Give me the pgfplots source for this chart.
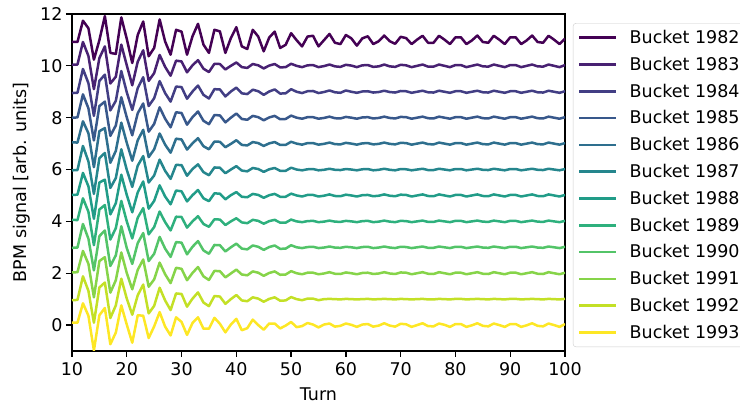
\documentclass[border=0pt]{standalone}
\usepackage{fontspec}
\setmainfont{DejaVu Sans}
\usepackage{pgfplots}
\usepackage{pgfplotstable}
\pgfplotsset{compat=1.18}

% viridis, 12 samples
\definecolor{v0}{RGB}{68,1,84}
\definecolor{v1}{RGB}{72,33,114}
\definecolor{v2}{RGB}{66,62,132}
\definecolor{v3}{RGB}{56,88,139}
\definecolor{v4}{RGB}{46,111,142}
\definecolor{v5}{RGB}{37,134,141}
\definecolor{v6}{RGB}{33,156,136}
\definecolor{v7}{RGB}{46,176,125}
\definecolor{v8}{RGB}{83,196,104}
\definecolor{v9}{RGB}{134,212,73}
\definecolor{v10}{RGB}{195,224,38}
\definecolor{v11}{RGB}{253,231,37}

% deviation of each bucket from its offset (a = 1982 ... l = 1993)
\pgfplotstableread{
t a b c d e f g h i j k l
10 -0.08 0.04 -0.05 0.00 0.05 -0.03 0.02 0.06 -0.02 0.03 -0.04 0.09
11 -0.08 0.05 -0.04 0.01 0.04 -0.02 0.03 0.05 -0.01 0.04 -0.03 0.09
12 0.74 0.92 0.88 0.90 0.86 0.91 0.87 0.89 0.90 0.86 0.88 0.84
13 0.45 0.38 0.33 0.36 0.40 0.31 0.35 0.37 0.33 0.36 0.32 0.36
14 -0.76 -0.90 -0.93 -0.88 -0.91 -0.94 -0.90 -0.92 -0.89 -0.93 -0.91 -0.98
15 -0.01 0.30 0.42 0.45 0.48 0.44 0.50 0.46 0.43 0.47 0.45 0.38
16 0.92 0.75 0.66 0.62 0.60 0.64 0.61 0.63 0.65 0.62 0.64 0.66
17 -0.50 -0.68 -0.72 -0.70 -0.74 -0.71 -0.73 -0.70 -0.72 -0.75 -0.73 -0.74
18 -0.54 -0.42 -0.35 -0.30 -0.28 -0.33 -0.30 -0.26 -0.31 -0.27 -0.24 -0.29
19 0.87 0.82 0.80 0.79 0.81 0.78 0.80 0.79 0.81 0.80 0.79 0.76
20 0.04 0.02 -0.02 0.01 0.03 -0.01 0.02 0.00 -0.03 0.01 0.02 0.02
21 -0.89 -0.75 -0.70 -0.68 -0.66 -0.67 -0.65 -0.66 -0.64 -0.62 -0.60 -0.68
22 0.19 0.16 0.14 0.17 0.13 0.15 0.12 0.14 0.16 0.13 0.15 0.38
23 0.71 0.60 0.56 0.55 0.53 0.52 0.54 0.51 0.55 0.53 0.56 0.36
24 -0.63 -0.58 -0.55 -0.54 -0.52 -0.50 -0.51 -0.50 -0.53 -0.52 -0.55 -0.50
25 -0.31 -0.28 -0.25 -0.24 -0.22 -0.23 -0.21 -0.22 -0.25 -0.24 -0.26 -0.05
26 0.79 0.42 0.41 0.40 0.39 0.38 0.39 0.38 0.40 0.41 0.44 0.50
27 -0.06 -0.04 -0.05 -0.04 -0.04 -0.05 -0.04 -0.03 -0.05 -0.04 -0.05 -0.06
28 -0.57 -0.38 -0.38 -0.37 -0.35 -0.36 -0.34 -0.35 -0.37 -0.38 -0.42 -0.40
29 0.39 0.20 0.20 0.21 0.19 0.18 0.19 0.18 0.20 0.21 0.22 0.30
30 0.32 0.17 0.18 0.18 0.16 0.17 0.16 0.17 0.18 0.17 0.20 0.12
31 -0.57 -0.25 -0.27 -0.27 -0.23 -0.24 -0.23 -0.24 -0.27 -0.27 -0.29 -0.38
32 0.14 0.02 0.01 0.02 0.01 0.02 0.01 0.00 0.02 0.01 0.02 0.08
33 0.62 0.22 0.24 0.24 0.21 0.20 0.21 0.20 0.24 0.24 0.26 0.30
34 -0.18 -0.11 -0.12 -0.12 -0.10 -0.10 -0.11 -0.10 -0.12 -0.12 -0.13 -0.14
35 -0.50 -0.24 -0.26 -0.25 -0.22 -0.22 -0.22 -0.21 -0.25 -0.26 -0.27 -0.14
36 0.39 0.08 0.10 0.10 0.08 0.08 0.08 0.08 0.09 0.09 0.12 0.28
37 0.33 0.07 0.09 0.09 0.07 0.07 0.07 0.07 0.08 0.08 0.10 0.05
38 -0.50 -0.14 -0.18 -0.18 -0.14 -0.14 -0.15 -0.14 -0.16 -0.16 -0.18 -0.28
39 0.07 0.00 0.01 0.00 -0.01 0.00 0.01 0.00 0.00 -0.01 0.00 0.02
40 0.49 0.13 0.16 0.16 0.13 0.13 0.13 0.12 0.14 0.14 0.16 0.24
41 -0.25 -0.05 -0.06 -0.05 -0.05 -0.04 -0.05 -0.04 -0.05 -0.05 -0.05 -0.20
42 -0.35 -0.08 -0.09 -0.08 -0.07 -0.07 -0.07 -0.07 -0.08 -0.08 -0.08 -0.12
43 0.39 0.07 0.08 0.07 0.06 0.06 0.06 0.06 0.07 0.07 0.07 0.21
44 0.13 0.02 0.02 0.02 0.02 0.02 0.02 0.02 0.02 0.02 0.02 0.00
45 -0.44 -0.10 -0.12 -0.10 -0.09 -0.09 -0.09 -0.09 -0.10 -0.10 -0.10 -0.18
46 0.09 0.01 0.01 0.01 0.01 0.01 0.01 0.01 0.01 0.01 0.01 0.06
47 0.32 0.07 0.09 0.07 0.06 0.06 0.06 0.06 0.07 0.07 0.07 0.06
48 -0.31 -0.06 -0.07 -0.06 -0.05 -0.05 -0.05 -0.05 -0.06 -0.06 -0.06 -0.13
49 -0.19 -0.05 -0.06 -0.05 -0.05 -0.05 -0.05 -0.05 -0.05 -0.05 -0.05 -0.02
50 0.26 0.08 0.10 0.08 0.07 0.07 0.07 0.07 0.08 0.08 0.08 0.12
51 -0.01 0.00 0.00 0.00 0.00 0.00 0.00 0.00 0.00 0.00 0.00 -0.08
52 -0.25 -0.05 -0.05 -0.04 -0.04 -0.03 -0.04 -0.03 -0.03 -0.04 -0.04 -0.04
53 0.13 0.02 0.02 0.02 0.02 0.01 0.02 0.01 0.01 0.02 0.02 0.08
54 0.16 0.03 0.03 0.02 0.02 0.02 0.02 0.02 0.02 0.02 0.02 0.02
55 -0.25 -0.05 -0.05 -0.04 -0.04 -0.03 -0.04 -0.03 -0.03 -0.04 -0.04 -0.09
56 -0.01 -0.01 -0.01 -0.01 -0.01 -0.01 -0.01 -0.01 -0.01 -0.01 0.00 0.02
57 0.23 0.05 0.05 0.04 0.04 0.03 0.04 0.03 0.03 0.04 0.01 0.06
58 -0.11 -0.02 -0.02 -0.02 -0.02 -0.01 -0.02 -0.01 -0.01 -0.02 0.00 -0.06
59 -0.16 -0.04 -0.04 -0.03 -0.03 -0.02 -0.03 -0.02 -0.02 -0.03 -0.01 -0.03
60 0.19 0.04 0.05 0.03 0.03 0.02 0.03 0.02 0.02 0.03 0.01 0.06
61 0.06 0.01 0.00 0.00 0.00 0.00 0.00 0.00 0.00 0.00 0.00 0.01
62 -0.22 -0.05 -0.04 -0.04 -0.04 -0.03 -0.04 -0.03 -0.03 -0.04 -0.01 -0.07
63 0.06 0.02 0.01 0.01 0.01 0.01 0.01 0.01 0.01 0.01 0.00 0.02
64 0.14 0.03 0.02 0.02 0.02 0.02 0.02 0.02 0.02 0.02 0.01 0.04
65 -0.16 -0.04 -0.03 -0.03 -0.03 -0.03 -0.03 -0.03 -0.03 -0.03 -0.01 -0.06
66 -0.05 -0.02 -0.01 -0.01 -0.01 -0.01 -0.01 -0.01 -0.01 -0.01 0.00 -0.02
67 0.17 0.05 0.04 0.04 0.04 0.03 0.04 0.03 0.03 0.04 0.01 0.07
68 -0.05 -0.02 -0.01 -0.01 -0.01 -0.01 -0.01 -0.01 -0.01 -0.01 0.00 -0.02
69 -0.15 -0.04 -0.03 -0.03 -0.03 -0.03 -0.03 -0.03 -0.03 -0.03 -0.01 -0.06
70 0.12 0.04 0.03 0.03 0.03 0.02 0.03 0.02 0.02 0.03 0.01 0.05
71 0.07 0.02 0.02 0.02 0.02 0.01 0.02 0.01 0.01 0.02 0.00 0.03
72 -0.16 -0.05 -0.04 -0.04 -0.04 -0.03 -0.04 -0.03 -0.03 -0.04 -0.01 -0.07
73 0.01 0.00 0.00 0.00 0.00 0.00 0.00 0.00 0.00 0.00 0.00 0.00
74 0.16 0.05 0.04 0.04 0.04 0.03 0.04 0.03 0.03 0.04 0.01 0.07
75 -0.11 -0.03 -0.02 -0.02 -0.02 -0.02 -0.02 -0.02 -0.02 -0.02 -0.01 -0.04
76 -0.11 -0.03 -0.03 -0.03 -0.03 -0.02 -0.03 -0.02 -0.02 -0.03 -0.01 -0.05
77 0.16 0.05 0.04 0.04 0.04 0.03 0.04 0.03 0.03 0.04 0.01 0.06
78 0.01 0.00 0.00 0.00 0.00 0.00 0.00 0.00 0.00 0.00 0.00 0.01
79 -0.16 -0.05 -0.04 -0.04 -0.04 -0.03 -0.04 -0.03 -0.03 -0.04 -0.01 -0.07
80 0.10 0.03 0.02 0.02 0.02 0.02 0.02 0.02 0.02 0.02 0.01 0.04
81 0.10 0.03 0.02 0.02 0.02 0.02 0.02 0.02 0.02 0.02 0.01 0.04
82 -0.16 -0.05 -0.04 -0.04 -0.04 -0.03 -0.04 -0.03 -0.03 -0.04 -0.01 -0.07
83 -0.02 0.00 0.00 0.00 0.00 0.00 0.00 0.00 0.00 0.00 0.00 -0.01
84 0.17 0.05 0.04 0.04 0.04 0.03 0.04 0.03 0.03 0.04 0.01 0.07
85 -0.08 -0.02 -0.02 -0.02 -0.02 -0.01 -0.02 -0.01 -0.01 -0.02 0.00 -0.03
86 -0.11 -0.03 -0.03 -0.03 -0.03 -0.02 -0.03 -0.02 -0.02 -0.03 -0.01 -0.05
87 0.16 0.05 0.04 0.04 0.04 0.03 0.04 0.03 0.03 0.04 0.01 0.06
88 0.01 0.00 0.00 0.00 0.00 0.00 0.00 0.00 0.00 0.00 0.00 0.00
89 -0.16 -0.05 -0.04 -0.04 -0.04 -0.03 -0.04 -0.03 -0.03 -0.04 -0.01 -0.07
90 0.10 0.03 0.02 0.02 0.02 0.02 0.02 0.02 0.02 0.02 0.01 0.04
91 0.10 0.03 0.02 0.02 0.02 0.02 0.02 0.02 0.02 0.02 0.01 0.04
92 -0.16 -0.05 -0.04 -0.04 -0.04 -0.03 -0.04 -0.03 -0.03 -0.04 -0.01 -0.07
93 -0.02 0.00 0.00 0.00 0.00 0.00 0.00 0.00 0.00 0.00 0.00 -0.01
94 0.17 0.05 0.04 0.04 0.04 0.03 0.04 0.03 0.03 0.04 0.01 0.07
95 -0.08 -0.02 -0.02 -0.02 -0.02 -0.01 -0.02 -0.01 -0.01 -0.02 0.00 -0.03
96 -0.11 -0.03 -0.03 -0.03 -0.03 -0.02 -0.03 -0.02 -0.02 -0.03 -0.01 -0.05
97 0.16 0.05 0.04 0.04 0.04 0.03 0.04 0.03 0.03 0.04 0.01 0.06
98 0.01 0.00 0.00 0.00 0.00 0.00 0.00 0.00 0.00 0.00 0.00 0.00
99 -0.16 -0.05 -0.04 -0.04 -0.04 -0.03 -0.04 -0.03 -0.03 -0.04 -0.01 -0.07
100 0.05 0.03 0.02 0.02 0.02 0.02 0.02 0.02 0.02 0.02 0.01 0.04
}\bpm

\begin{document}
\begin{tikzpicture}
\begin{axis}[
  name=ax,
  scale only axis,
  width=493pt, height=337pt,
  xmin=10, xmax=100, ymin=-1, ymax=12,
  xtick={10,20,...,100}, ytick={0,2,...,12},
  tick pos=left,
  tick align=outside, major tick length=6pt,
  tick style={black, line width=1.3pt},
  axis line style={line width=1.3pt},
  /pgf/number format/assume math mode=true,
  ticklabel style={font=\fontsize{17.5}{20}\selectfont},
  xticklabel style={yshift=-2pt},
  label style={font=\fontsize{17.5}{20}\selectfont},
  xlabel={Turn}, ylabel={BPM signal [arb. units]},
  xlabel style={yshift=-5pt},
  ylabel style={yshift=3pt},
  every axis plot/.append style={line width=2.5pt, line join=round},
  legend cell align=left,
  legend image code/.code={\draw[#1, line width=2.6pt] (0pt,0pt) -- (37pt,0pt);},
  legend style={at={(1.016,0.973)}, anchor=north west,
    font=\fontsize{17.5}{20}\selectfont, draw=black!20, rounded corners=3pt,
    row sep=8pt, inner xsep=5pt, inner ysep=5pt,
    /tikz/every odd column/.append style={column sep=10pt}},
]
\addplot[v0]  table[x=t, y expr=\thisrow{a}+11] {\bpm};
\addplot[v1]  table[x=t, y expr=\thisrow{b}+10] {\bpm};
\addplot[v2]  table[x=t, y expr=\thisrow{c}+9] {\bpm};
\addplot[v3]  table[x=t, y expr=\thisrow{d}+8] {\bpm};
\addplot[v4]  table[x=t, y expr=\thisrow{e}+7] {\bpm};
\addplot[v5]  table[x=t, y expr=\thisrow{f}+6] {\bpm};
\addplot[v6]  table[x=t, y expr=\thisrow{g}+5] {\bpm};
\addplot[v7]  table[x=t, y expr=\thisrow{h}+4] {\bpm};
\addplot[v8]  table[x=t, y expr=\thisrow{i}+3] {\bpm};
\addplot[v9]  table[x=t, y expr=\thisrow{j}+2] {\bpm};
\addplot[v10] table[x=t, y expr=\thisrow{k}+1] {\bpm};
\addplot[v11] table[x=t, y expr=\thisrow{l}+0] {\bpm};
\legend{Bucket 1982, Bucket 1983, Bucket 1984, Bucket 1985, Bucket 1986, Bucket 1987,
  Bucket 1988, Bucket 1989, Bucket 1990, Bucket 1991, Bucket 1992, Bucket 1993}
\end{axis}
\pgfresetboundingbox
\path (ax.south west) ++(-72pt,-55pt) rectangle ++(740pt,406pt);
\end{tikzpicture}
\end{document}
